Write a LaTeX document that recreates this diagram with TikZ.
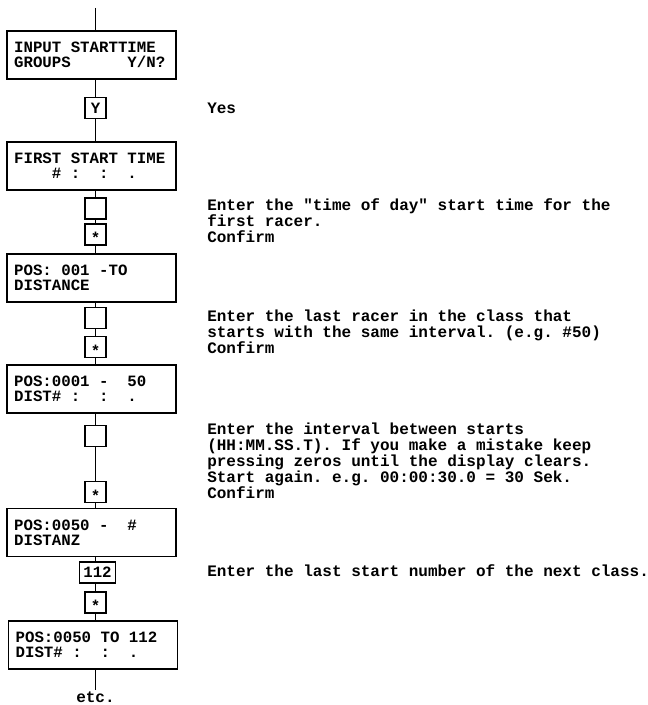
\documentclass[tikz,border=0pt]{standalone}
\usepackage{fontspec}
\setmonofont{Liberation Mono}
\newcommand\monofnt[2]{\ttfamily\bfseries\fontsize{#1}{#2}\selectfont\fontdimen2\font=0.6em\fontdimen3\font=0pt\fontdimen4\font=0pt\fontdimen7\font=0pt}
\newcommand\keystar{\raisebox{-7pt}[0pt][0pt]{*}}
\begin{document}
\begin{tikzpicture}[x=0.75pt,y=-0.75pt,
  disp/.style={draw, line width=0.9pt, minimum width=126.75pt, minimum height=36pt,
    inner xsep=5.375pt, inner ysep=0pt, text width=116pt, align=flush left,
    font=\monofnt{11.8}{11.5}},
  keybox/.style={draw, line width=0.9pt, minimum width=15.75pt, minimum height=15.75pt,
    inner xsep=2.7pt, inner ysep=0pt, font=\monofnt{11.8}{12}},
  starbox/.style={keybox, text height=0pt, text depth=0pt},
  note/.style={anchor=base west, inner sep=0pt, text width=340pt, align=flush left,
    font=\monofnt{12}{12}},
  conn/.style={line width=0.9pt}]
\useasboundingbox (0,0) rectangle (648,705);
% display boxes
\node[disp] (b1) at (91.5,55) {INPUT STARTTIME\\GROUPS~~~~~~Y/N?};
\node[disp] (b2) at (91.5,166) {FIRST START TIME\\~~~~\#~:~~:~~.};
\node[disp] (b3) at (91.5,278) {POS:~001~-TO\\DISTANCE};
\node[disp] (b4) at (91.5,389) {POS:0001~-~~50\\DIST\#~:~~:~~.};
\node[disp] (b5) at (91.5,532.5) {POS:0050~-~~\#\\DISTANZ};
\node[disp] (b6) at (93,645) {POS:0050~TO~112\\DIST\#~:~~:~~.};
% key boxes
\node[keybox] (ky) at (95.5,108) {Y};
\node[keybox] (e1) at (95.5,208.5) {};
\node[starbox] (s1) at (95.5,234.5) {\keystar};
\node[keybox] (e2) at (95.5,318) {};
\node[starbox] (s2) at (95.5,347) {\keystar};
\node[keybox] (e3) at (95.5,436) {};
\node[starbox] (s3) at (95.5,492) {\keystar};
\node[keybox] (n112) at (97.5,572.5) {112};
\node[starbox] (s4) at (95.5,602.5) {\keystar};
% free ends
\coordinate (top) at (95.5,8);
\coordinate (bot) at (95.5,690);
\node[anchor=base, inner sep=0pt, font=\monofnt{12}{12}] (etc) at (95.5,702) {etc.};
% connectors
\draw[conn] (top) -- (top |- b1.north);
\draw[conn] (ky) -- (ky |- b1.south);
\draw[conn] (ky) -- (ky |- b2.north);
\draw[conn] (e1) -- (e1 |- b2.south);
\draw[conn] (e1) -- (s1);
\draw[conn] (s1) -- (s1 |- b3.north);
\draw[conn] (e2) -- (e2 |- b3.south);
\draw[conn] (e2) -- (s2);
\draw[conn] (s2) -- (s2 |- b4.north);
\draw[conn] (e3) -- (e3 |- b4.south);
\draw[conn] (e3) -- (s3);
\draw[conn] (s3) -- (s3 |- b5.north);
\draw[conn] (s4 |- n112.north) -- (s4 |- b5.south);
\draw[conn] (s4 |- n112.south) -- (s4);
\draw[conn] (s4) -- (s4 |- b6.north);
\draw[conn] (bot) -- (bot |- b6.south);
% notes
\node[note] (t0) at (207,114) {Yes};
\node[note] (t1) at (207,211) {Enter the "time of day" start time for the\\first racer.\\Confirm};
\node[note] (t2) at (207,321) {Enter the last racer in the class that\\starts with the same interval. (e.g. \#50)\\Confirm};
\node[note] (t3) at (207,434) {Enter the interval between starts\\(HH:MM.SS.T). If you make a mistake keep\\pressing zeros until the display clears.\\Start again. e.g. 00:00:30.0 = 30 Sek.\\Confirm};
\node[note] (t4) at (207,576) {Enter the last start number of the next class.};
\end{tikzpicture}
\end{document}
